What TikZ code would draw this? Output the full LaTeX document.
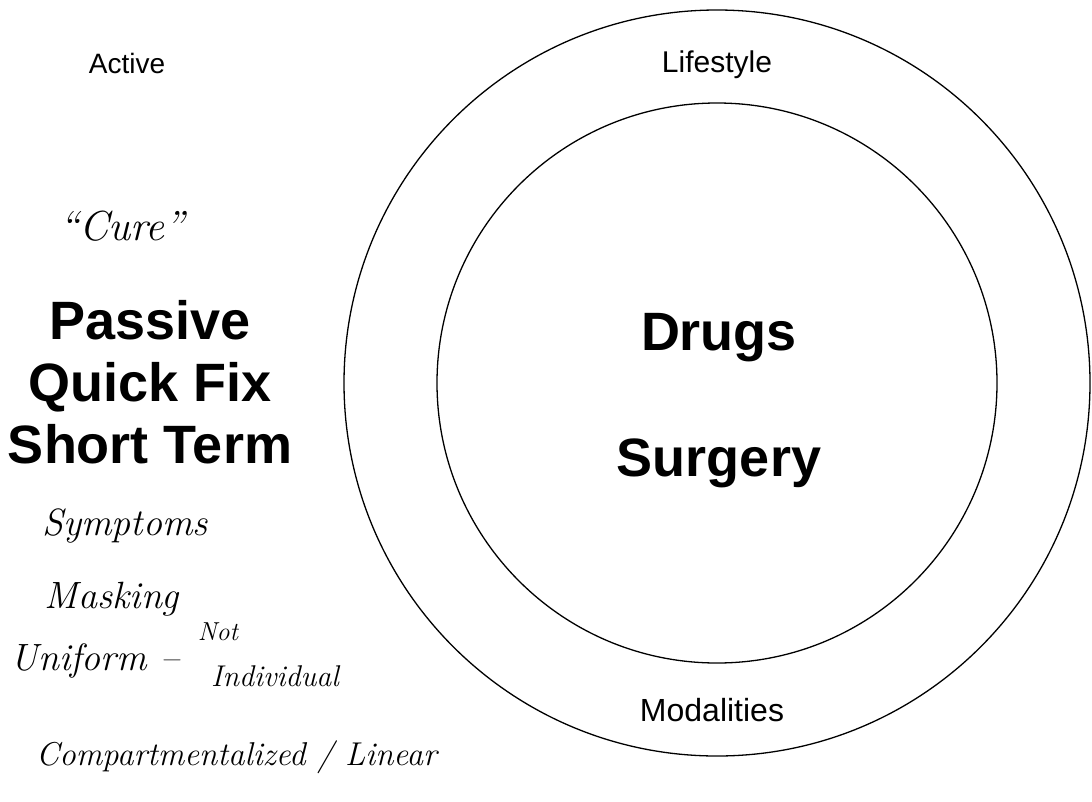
\documentclass[tikz,border=0pt]{standalone}
\usepackage{fontspec}
\setmainfont{Liberation Sans}
\newfontfamily\handfont[Ligatures=TeX]{Latin Modern Roman}
\begin{document}
\begin{tikzpicture}[x=1pt, y=-1pt]
        \tikzstyle{every node}=[inner sep=0pt, anchor=base]
        \tikzstyle{ring}=[draw, line width=1.3pt]
        \tikzstyle{smalltext}=[font=\fontsize{30}{33}\selectfont]
        \tikzstyle{bigtext}=[font=\fontsize{54}{62}\selectfont\bfseries, align=center]
        \tikzstyle{hand}=[font=\fontsize{38}{40}\selectfont\handfont\itshape]
        \useasboundingbox (0,0) rectangle (1092,801);
        % rings
        \coordinate (mid) at (717,383);
        \draw [ring] (mid) circle (373);
        \draw [ring] (mid) circle (280);
        \node [smalltext] (lifestyle) at (717,72) {Lifestyle};
        \node [smalltext, font=\fontsize{32}{34}\selectfont] (modalities) at (712,721) {Modalities};
        \node [bigtext] (drugs) at (719,350) {Drugs};
        \node [bigtext] (surgery) at (719,476) {Surgery};
        % left column
        \node [smalltext, font=\fontsize{28}{30}\selectfont] (active) at (127,73) {Active};
        \node [hand, font=\fontsize{42}{44}\selectfont\handfont\itshape] (cure) at (122,240) {``Cure''};
        \node [bigtext, anchor=north] (passive) at (150,300) {Passive\\Quick Fix\\Short Term};
        \node [hand] (symptoms) at (125,535) {Symptoms};
        \node [hand] (masking) at (112,608) {Masking};
        \node [hand] (uniform) at (95,670) {Uniform --};
        \node [hand, font=\fontsize{26}{28}\selectfont\handfont\itshape] (notword) at (218,640) {Not};
        \node [hand, font=\fontsize{30}{32}\selectfont\handfont\itshape] (individual) at (275,686) {Individual};
        \node [hand, font=\fontsize{33}{35}\selectfont\handfont\itshape, anchor=base west] (compart) at (36,765) {Compartmentalized / Linear};
\end{tikzpicture}
\end{document}
